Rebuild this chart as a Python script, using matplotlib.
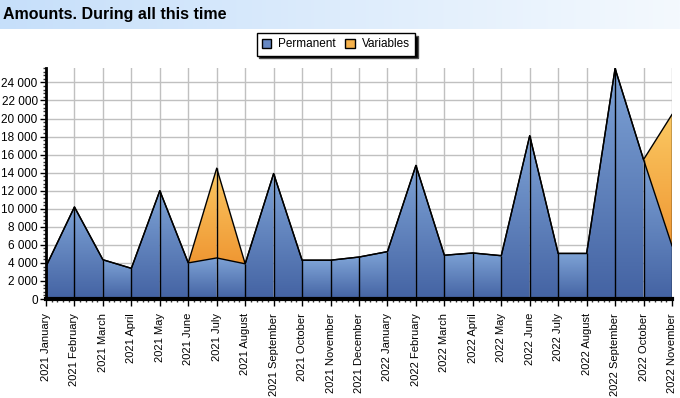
import numpy as np
import matplotlib.pyplot as plt
from matplotlib.patches import Polygon, Patch
from matplotlib.colors import LinearSegmentedColormap
from matplotlib.ticker import MultipleLocator, FuncFormatter

plt.rcParams['font.family'] = ['Liberation Sans', 'DejaVu Sans']

months = ['2021 January', '2021 February', '2021 March', '2021 April', '2021 May',
          '2021 June', '2021 July', '2021 August', '2021 September', '2021 October',
          '2021 November', '2021 December', '2022 January', '2022 February', '2022 March',
          '2022 April', '2022 May', '2022 June', '2022 July', '2022 August',
          '2022 September', '2022 October', '2022 November']
permanent = [3600, 10200, 4350, 3400, 12000, 4000, 4550, 3900, 13900, 4300,
             4300, 4650, 5250, 14800, 4850, 5100, 4800, 18100, 5050, 5050,
             25550, 15450, 5900]
variables = [0, 0, 0, 0, 0, 0, 9950, 0, 0, 0,
             0, 0, 0, 0, 0, 0, 0, 0, 0, 0,
             0, 0, 14550]

x = np.arange(len(months))
perm = np.array(permanent, dtype=float)
total = perm + np.array(variables, dtype=float)

blue_cm = LinearSegmentedColormap.from_list('b', ['#4463a3', '#7ea3d6'])
orange_cm = LinearSegmentedColormap.from_list('o', ['#ef9733', '#fbc862'])

fig = plt.figure(figsize=(6.8, 3.98), dpi=100)

# title bar
tb = fig.add_axes([0, 1 - 29 / 398, 1, 29 / 398])
tb.imshow(np.linspace(0, 1, 256).reshape(1, -1), aspect='auto',
          cmap=LinearSegmentedColormap.from_list('t', ['#c6dffa', '#f4f9fe']),
          extent=(0, 1, 0, 1))
tb.set_xlim(0, 1)
tb.set_ylim(0, 1)
tb.axis('off')
tb.text(0.004, 0.5, 'Amounts. During all this time', fontsize=11.5, fontweight='bold',
        va='center', ha='left')

ax = fig.add_axes([46 / 680, 1 - 299 / 398, 626 / 680, 231 / 398])
ymax = 25600

def grad_fill(xs, ys, lo, hi, cmap):
    poly = Polygon(list(zip(xs, ys)), closed=True, facecolor='none', edgecolor='none')
    ax.add_patch(poly)
    g = np.linspace(0, 1, 100).reshape(-1, 1)
    im = ax.imshow(g, aspect='auto', cmap=cmap, origin='lower',
                   extent=(min(xs), max(xs), lo, hi), zorder=2)
    im.set_clip_path(poly)

for i in range(len(x) - 1):
    x0, x1 = x[i], x[i + 1]
    # permanent segment
    top = max(perm[i], perm[i + 1])
    grad_fill([x0, x0, x1, x1], [0, perm[i], perm[i + 1], 0], 0, top, blue_cm)
    # variables segment
    if total[i] > perm[i] or total[i + 1] > perm[i + 1]:
        lo = min(perm[i], perm[i + 1])
        hi = max(total[i], total[i + 1])
        grad_fill([x0, x0, x1, x1], [perm[i], total[i], total[i + 1], perm[i + 1]],
                  lo, hi, orange_cm)

ax.plot(x, perm, color='black', lw=1, zorder=4)
ax.plot(x, total, color='black', lw=1, zorder=4)
ax.vlines(x, 0, total, color='black', lw=1, zorder=4)

ax.set_xlim(0, len(x) - 1)
ax.set_ylim(0, ymax)
ax.set_axisbelow(True)
ax.grid(True, color='#c0c0c0', lw=1, zorder=0)

ax.set_xticks(x)
ax.set_xticklabels(months, rotation=90, fontsize=8, va='top')
ax.xaxis.set_minor_locator(MultipleLocator(0.2))
ax.yaxis.set_major_locator(MultipleLocator(2000))
ax.yaxis.set_minor_locator(MultipleLocator(400))
ax.yaxis.set_major_formatter(FuncFormatter(lambda v, p: f'{int(v):,}'.replace(',', ' ')))
ax.tick_params(axis='y', labelsize=8.5, length=4, width=1, pad=2)
ax.tick_params(axis='x', length=5, width=1, pad=5)
ax.tick_params(which='minor', length=2.5, width=1, color='#333333')

for s in ['top', 'right']:
    ax.spines[s].set_visible(False)
ax.spines['left'].set_linewidth(2)
ax.spines['bottom'].set_linewidth(3)
ax.spines['left'].set_zorder(5)
ax.spines['bottom'].set_zorder(5)

handles = [Patch(facecolor='#6688c4', edgecolor='black', label='Permanent'),
           Patch(facecolor='#f6b24c', edgecolor='black', label='Variables')]
leg = fig.legend(handles=handles, loc='upper center', bbox_to_anchor=(0.494, 0.917),
                 ncol=2, fontsize=8.5, frameon=True, fancybox=False,
                 shadow={'facecolor': 'black', 'alpha': 1},
                 handlelength=0.8, handleheight=0.8, handletextpad=0.6,
                 columnspacing=0.8, borderpad=0.45, borderaxespad=0)
leg.get_frame().set_edgecolor('black')
leg.get_frame().set_linewidth(1)

fig.savefig('out.png', dpi=100)
